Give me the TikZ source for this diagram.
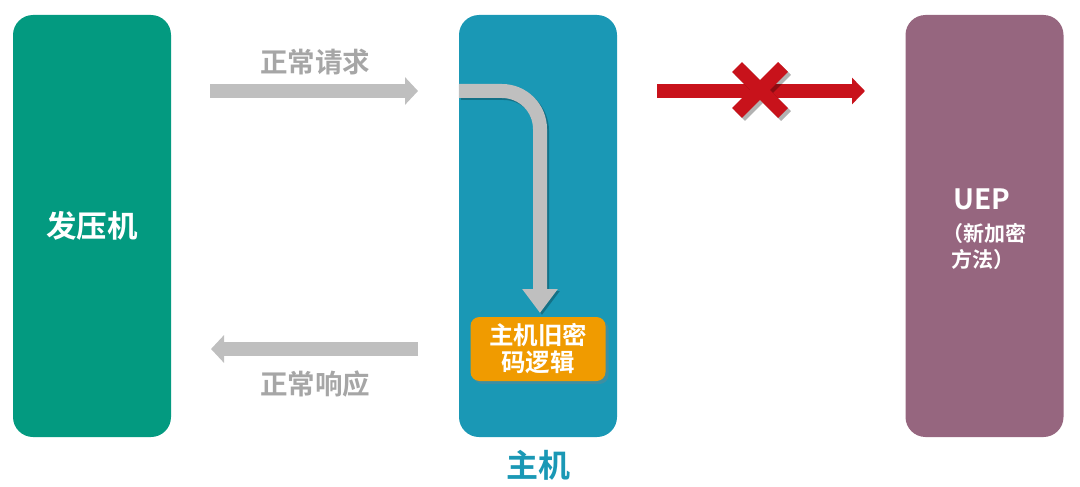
\documentclass[tikz,border=0pt]{standalone}
\usepackage{fontspec}
\setmainfont{Noto Sans CJK SC}[BoldFont={Noto Sans CJK SC Bold}]
\usetikzlibrary{arrows.meta,shadows}
\definecolor{cgreen}{HTML}{039A80}
\definecolor{cblue}{HTML}{1A98B5}
\definecolor{cpurple}{HTML}{96667F}
\definecolor{corange}{HTML}{F09B00}
\definecolor{cgray}{HTML}{BFBFBF}
\definecolor{ctext}{HTML}{A6A6A6}
\definecolor{cred}{HTML}{C8121B}
\tikzset{
  bigbox/.style={rounded corners=20pt, minimum width=158pt, minimum height=422pt, inner sep=0pt, text=white, font=\bfseries},
  grayarrow/.style={draw=cgray, line width=14pt, -{Triangle[length=13pt,width=27pt]}},
  redarrow/.style={draw=cred, line width=14pt, -{Triangle[length=13pt,width=26pt]}},
  lbl/.style={text=ctext, font=\bfseries\fontsize{27.5}{30}\selectfont, inner sep=0pt},
  uepsub/.style={text=white, inner sep=0pt, font=\bfseries\fontsize{21}{24}\selectfont},
  logicbox/.style={fill=corange, rounded corners=9pt, minimum width=135pt, minimum height=64pt, inner sep=0pt, text=white, align=center, font=\bfseries\fontsize{24.5}{27}\selectfont, drop shadow={shadow xshift=3pt, shadow yshift=-3pt, opacity=0.35}},
  xstroke/.style={draw=cred, line width=14pt}
}
\begin{document}
\begin{tikzpicture}[x=1pt,y=-1pt]
\useasboundingbox (0,0) rectangle (1080,487);
% boxes
\node[bigbox, fill=cgreen, font=\bfseries\fontsize{30.5}{34}\selectfont] (gen) at (92,226) {发压机};
\node[bigbox, fill=cblue] (host) at (538,226) {};
\node[bigbox, fill=cpurple] (uep) at (984.5,226) {};
\node[text=white, inner sep=0pt, font=\bfseries\fontsize{28}{30}\selectfont] (ueptitle) at (982,199) {UEP};
\node[uepsub, anchor=east] (uepsub1) at (1027,233) {（新加密};
\node[uepsub, anchor=west] (uepsub2) at (951,259) {方法）};
\node[text=cblue, inner sep=0pt, font=\bfseries\fontsize{32}{34}\selectfont] (hostlbl) at (538,465) {主机};
% request / response arrows
\coordinate (reqs) at (210,91);
\coordinate (reqe) at (418,91);
\coordinate (ress) at (418,349);
\coordinate (rese) at (211,349);
\draw[grayarrow] (reqs) -- (reqe);
\draw[grayarrow] (ress) -- (rese);
\node[lbl] (reqlbl) at (315,62) {正常请求};
\node[lbl] (reslbl) at (315,384) {正常响应};
% logic box
\node[logicbox] (logic) at (538,349) {主机旧密\\码逻辑};
% curved arrow
\coordinate (cin) at (host.west |- 0,91);
\coordinate (ctip) at (540,313);
\draw[draw=black, opacity=0.25, line width=14pt, rounded corners=38pt, -{Triangle[length=24pt,width=34pt]}, transform canvas={shift={(2pt,-2pt)}}] (cin) -- (540,91) -- (ctip);
\draw[grayarrow, rounded corners=38pt, -{Triangle[length=24pt,width=34pt]}] (cin) -- (540,91) -- (ctip);
% red blocked arrow
\coordinate (bs) at (657,91);
\coordinate (be) at (865,91);
\draw[redarrow] (bs) -- (be);
\draw[draw=black, opacity=0.3, line width=14pt, transform canvas={shift={(3pt,-3pt)}}] (737,67) -- (783,113) (783,67) -- (737,113);
\draw[xstroke] (737,67) -- (783,113);
\draw[xstroke] (783,67) -- (737,113);
\end{tikzpicture}
\end{document}
